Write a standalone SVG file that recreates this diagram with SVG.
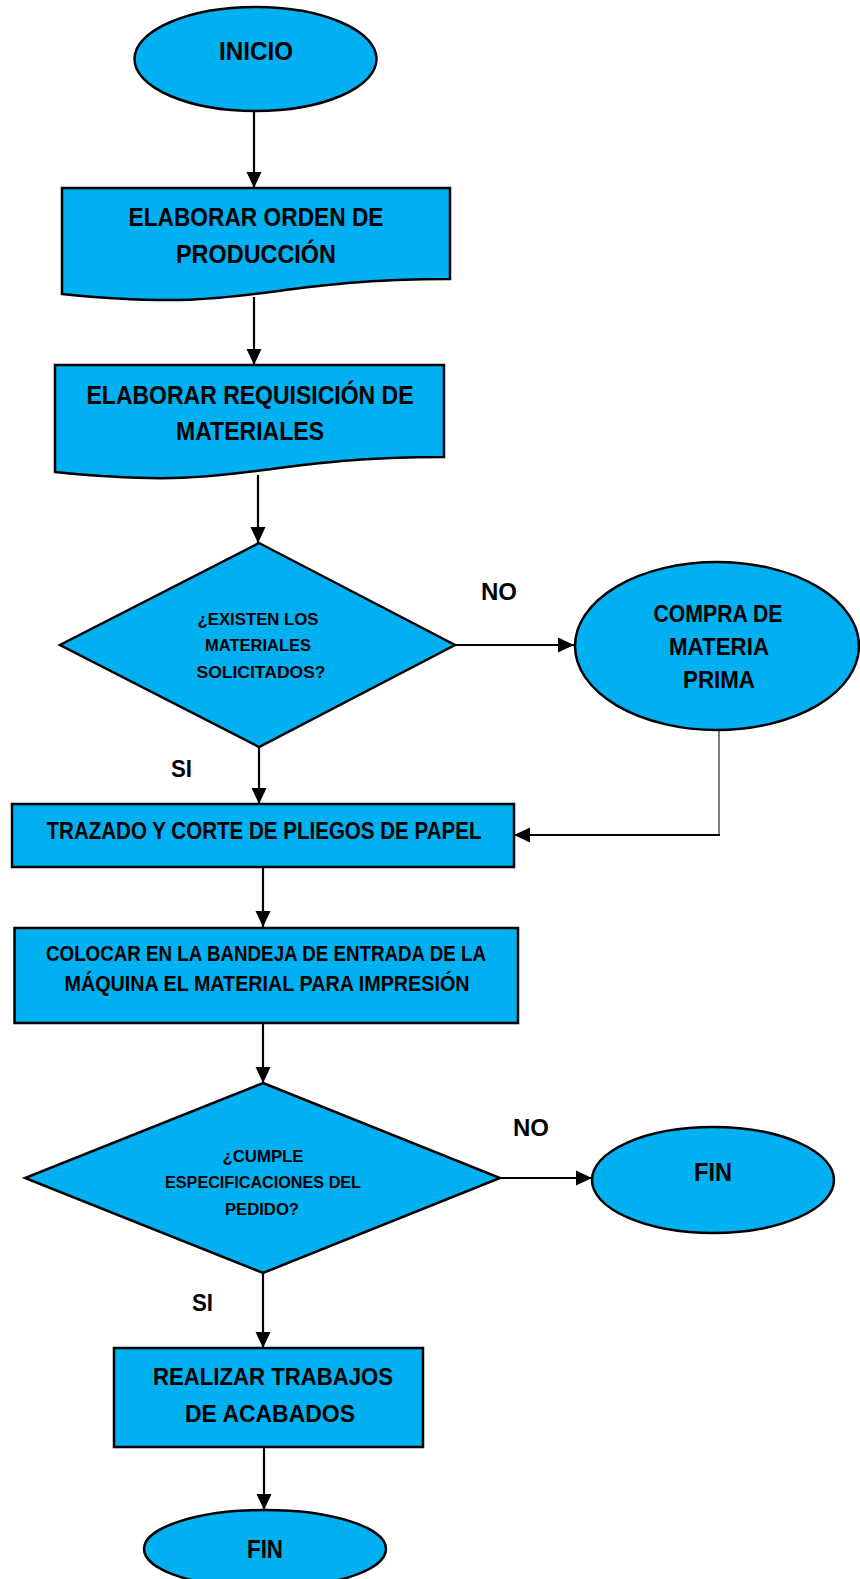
<svg xmlns="http://www.w3.org/2000/svg" width="860" height="1579" viewBox="0 0 860 1579">
<style>
.s{fill:#00B0F0;stroke:#000;stroke-width:2.5}
.t{font-family:"Liberation Sans",Arial,sans-serif;font-weight:bold;fill:#000;text-anchor:middle}
.c{stroke:#000;stroke-width:2.2;fill:none}
</style>
<defs>
<marker id="ah" markerUnits="userSpaceOnUse" markerWidth="17" markerHeight="17" viewBox="0 0 17 17" refX="16" refY="8.5" orient="auto">
<path d="M0,1 L16,8.5 L0,16 Z" fill="#000"/>
</marker>
</defs>
<rect width="860" height="1579" fill="#fff"/>
<g id="connectors">
<path class="c" d="M254,111 V188" marker-end="url(#ah)"/>
<path class="c" d="M254,297 V365" marker-end="url(#ah)"/>
<path class="c" d="M258,475 V543" marker-end="url(#ah)"/>
<path class="c" d="M455,645 H574" marker-end="url(#ah)"/>
<path class="c" d="M259,747 V804" marker-end="url(#ah)"/>
<path stroke="#000" stroke-width="1" fill="none" d="M719,730 V835"/>
<path class="c" d="M720,835 H514" marker-end="url(#ah)"/>
<path class="c" d="M263,867 V927" marker-end="url(#ah)"/>
<path class="c" d="M263,1023 V1083" marker-end="url(#ah)"/>
<path class="c" d="M500,1178 H592" marker-end="url(#ah)"/>
<path class="c" d="M263,1273 V1348" marker-end="url(#ah)"/>
<path class="c" d="M264,1447 V1510" marker-end="url(#ah)"/>
</g>
<g id="inicio">
<ellipse class="s" cx="255.5" cy="59" rx="121" ry="52"/>
<text class="t" x="256" y="60" font-size="26" textLength="74" lengthAdjust="spacingAndGlyphs">INICIO</text>
</g>
<g id="orden">
<path class="s" d="M62,188 H450 V279 C256,279 256,313.7 62,294 Z"/>
<text class="t" x="256" y="226" font-size="25" textLength="255" lengthAdjust="spacingAndGlyphs">ELABORAR ORDEN DE</text>
<text class="t" x="256" y="263" font-size="25" textLength="160" lengthAdjust="spacingAndGlyphs">PRODUCCIÓN</text>
</g>
<g id="requisicion">
<path class="s" d="M55,365 H444 V457 C249.5,457 249.5,492 55,472 Z"/>
<text class="t" x="250" y="404" font-size="25" textLength="327" lengthAdjust="spacingAndGlyphs">ELABORAR REQUISICIÓN DE</text>
<text class="t" x="250" y="440" font-size="25" textLength="148" lengthAdjust="spacingAndGlyphs">MATERIALES</text>
</g>
<g id="existen">
<polygon class="s" points="259,543 455,645 259,747 60,645"/>
<text class="t" x="258" y="625" font-size="17" textLength="121" lengthAdjust="spacingAndGlyphs">¿EXISTEN LOS</text>
<text class="t" x="258" y="651" font-size="17" textLength="106" lengthAdjust="spacingAndGlyphs">MATERIALES</text>
<text class="t" x="261" y="678" font-size="17" textLength="129" lengthAdjust="spacingAndGlyphs">SOLICITADOS?</text>
</g>
<g id="labels">
<text class="t" x="499" y="600" font-size="24" textLength="36" lengthAdjust="spacingAndGlyphs">NO</text>
<text class="t" x="181.5" y="777" font-size="24" textLength="21" lengthAdjust="spacingAndGlyphs">SI</text>
<text class="t" x="531" y="1136" font-size="24" textLength="36" lengthAdjust="spacingAndGlyphs">NO</text>
<text class="t" x="202.5" y="1311" font-size="24" textLength="21" lengthAdjust="spacingAndGlyphs">SI</text>
</g>
<g id="compra">
<ellipse class="s" cx="717" cy="646" rx="142" ry="84"/>
<text class="t" x="718" y="622" font-size="23" textLength="129" lengthAdjust="spacingAndGlyphs">COMPRA DE</text>
<text class="t" x="719" y="655" font-size="23" textLength="100" lengthAdjust="spacingAndGlyphs">MATERIA</text>
<text class="t" x="719" y="688" font-size="23" textLength="72" lengthAdjust="spacingAndGlyphs">PRIMA</text>
</g>
<g id="trazado">
<rect class="s" x="12" y="804" width="502" height="63"/>
<text class="t" x="264" y="839" font-size="23" textLength="435" lengthAdjust="spacingAndGlyphs">TRAZADO Y CORTE DE PLIEGOS DE PAPEL</text>
</g>
<g id="colocar">
<rect class="s" x="14.5" y="928" width="503.5" height="95"/>
<text class="t" x="266" y="961" font-size="22" textLength="440" lengthAdjust="spacingAndGlyphs">COLOCAR EN LA BANDEJA DE ENTRADA DE LA</text>
<text class="t" x="267" y="991" font-size="22" textLength="405" lengthAdjust="spacingAndGlyphs">MÁQUINA EL MATERIAL PARA IMPRESIÓN</text>
</g>
<g id="cumple">
<polygon class="s" points="263,1083 500,1178 263,1273 25,1178"/>
<text class="t" x="263" y="1162" font-size="17" textLength="81" lengthAdjust="spacingAndGlyphs">¿CUMPLE</text>
<text class="t" x="263" y="1188" font-size="17" textLength="196" lengthAdjust="spacingAndGlyphs">ESPECIFICACIONES DEL</text>
<text class="t" x="262" y="1215" font-size="17" textLength="74" lengthAdjust="spacingAndGlyphs">PEDIDO?</text>
</g>
<g id="fin1">
<ellipse class="s" cx="713" cy="1180" rx="121" ry="53"/>
<text class="t" x="713" y="1181" font-size="25" textLength="38" lengthAdjust="spacingAndGlyphs">FIN</text>
</g>
<g id="realizar">
<rect class="s" x="114" y="1348" width="309" height="99"/>
<text class="t" x="273" y="1385" font-size="24" textLength="240" lengthAdjust="spacingAndGlyphs">REALIZAR TRABAJOS</text>
<text class="t" x="270" y="1422" font-size="24" textLength="170" lengthAdjust="spacingAndGlyphs">DE ACABADOS</text>
</g>
<g id="fin2">
<ellipse class="s" cx="265" cy="1549" rx="121" ry="39"/>
<text class="t" x="265" y="1558" font-size="25" textLength="36" lengthAdjust="spacingAndGlyphs">FIN</text>
</g>
</svg>
